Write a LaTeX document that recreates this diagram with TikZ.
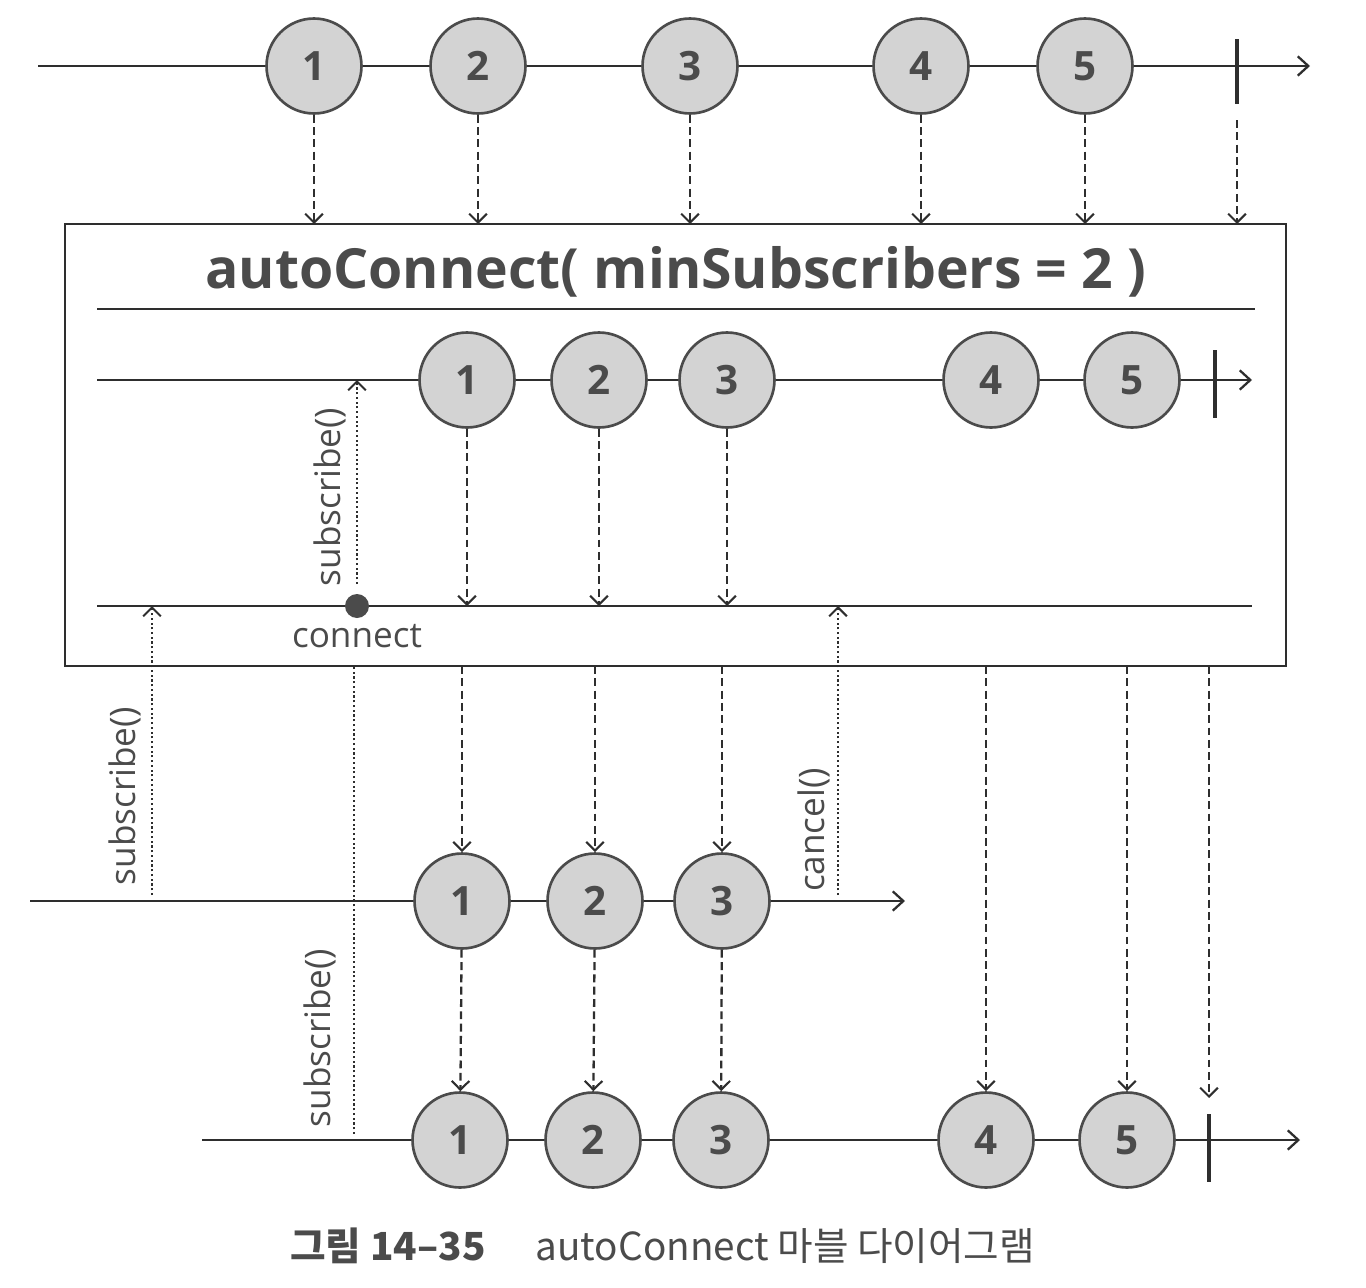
\documentclass[tikz,border=0pt]{standalone}
\usepackage{fontspec}
\setmainfont{Open Sans}
\newfontfamily\krfont{Noto Sans CJK KR}
\usepackage{xcolor}
\usetikzlibrary{arrows.meta,calc,positioning}
\definecolor{marblefill}{HTML}{D3D3D3}
\definecolor{inkgray}{HTML}{4B4B4B}
\definecolor{linegray}{HTML}{2E2E2E}
\tikzset{
		>={Straight Barb[length=6pt,width=11pt,line width=1.3pt]},
		timeline/.style={linegray,line width=1.3pt,->},
		plainline/.style={linegray,line width=1.3pt},
		endbar/.style={linegray,line width=2pt},
		marble/.style={circle,draw=inkgray,fill=marblefill,line width=1.5pt,
			minimum size=1.9cm,inner sep=0pt,text=inkgray,font=\bfseries\fontsize{23}{23}\selectfont},
		emit/.style={linegray,line width=1.3pt,dash pattern=on 4.5pt off 2.5pt,
			-{Straight Barb[length=5pt,width=10pt,line width=1.2pt]}},
		call/.style={linegray,line width=1.6pt,dash pattern=on 1.2pt off 1.5pt,
			-{Straight Barb[length=5pt,width=10pt,line width=1.2pt]}},
		callline/.style={linegray,line width=1.6pt,dash pattern=on 1.2pt off 1.5pt},
		lbl/.style={text=inkgray,font=\fontsize{20}{20}\selectfont,inner sep=0pt}
	}
\begin{document}
\begin{tikzpicture}[x=0.02cm,y=-0.02cm]
          \useasboundingbox (0,0) rectangle (1366,1288);

          % source
          \coordinate (tStart) at (38,66);
          \coordinate (tEnd) at (1310,66);
          \draw[timeline] (tStart) -- (tEnd);
          \node[marble] (t1) at (314,66) {1};
          \node[marble] (t2) at (478,66) {2};
          \node[marble] (t3) at (690,66) {3};
          \node[marble] (t4) at (921,66) {4};
          \node[marble] (t5) at (1085,66) {5};
          \coordinate (tDone) at (1237,66);
          \draw[endbar] ($(tDone)+(0,-27)$) -- ($(tDone)+(0,38)$);

          % operator box
          \coordinate (boxNW) at (65,224);
          \coordinate (boxSE) at (1286,666);
          \draw[plainline] (boxNW) rectangle (boxSE);
          \node[text=inkgray,font=\bfseries\fontsize{31.5}{31.5}\selectfont] (title) at (676,272)
               {autoConnect( minSubscribers = 2 )};
          \draw[plainline] (97,309) -- (1255,309);

          \draw[emit] (t1) -- (t1 |- boxNW);
          \draw[emit] (t2) -- (t2 |- boxNW);
          \draw[emit] (t3) -- (t3 |- boxNW);
          \draw[emit] (t4) -- (t4 |- boxNW);
          \draw[emit] (t5) -- (t5 |- boxNW);
          \draw[emit] ($(tDone)+(0,54)$) -- (tDone |- boxNW);

          % inner source
          \coordinate (aStart) at (97,380);
          \coordinate (aEnd) at (1252,380);
          \draw[timeline] (aStart) -- (aEnd);
          \node[marble] (a1) at (467,380) {1};
          \node[marble] (a2) at (599,380) {2};
          \node[marble] (a3) at (727,380) {3};
          \node[marble] (a4) at (991,380) {4};
          \node[marble] (a5) at (1132,380) {5};
          \coordinate (aDone) at (1215,380);
          \draw[endbar] ($(aDone)+(0,-30)$) -- ($(aDone)+(0,38)$);

          % inner subscriber line
          \coordinate (cStart) at (97,606);
          \coordinate (cEnd) at (1252,606);
          \draw[plainline] (cStart) -- (cEnd);
          \draw[emit] (a1) -- (a1 |- cStart);
          \draw[emit] (a2) -- (a2 |- cStart);
          \draw[emit] (a3) -- (a3 |- cStart);

          \node[circle,fill=inkgray,minimum size=0.48cm,inner sep=0pt] (conn) at (357,606) {};
          \node[lbl,below=0.12cm of conn] (connLbl) {connect};
          \draw[call] ($(conn)+(0,-22)$) -- (conn |- aStart);
          \node[lbl,rotate=90] (subA) at (330,497) {subscribe()};

          % first subscriber
          \coordinate (sStart) at (30,901);
          \coordinate (sEnd) at (905,901);
          \draw[timeline] (sStart) -- (sEnd);
          \node[marble] (s1) at (462,901) {1};
          \node[marble] (s2) at (595,901) {2};
          \node[marble] (s3) at (722,901) {3};
          \draw[emit] (s1 |- boxSE) -- (s1);
          \draw[emit] (s2 |- boxSE) -- (s2);
          \draw[emit] (s3 |- boxSE) -- (s3);

          \coordinate (subOne) at (152,895);
          \draw[call] (subOne) -- (subOne |- cStart);
          \node[lbl,rotate=90] (subB) at (125,796) {subscribe()};
          \coordinate (cancelPt) at (838,895);
          \draw[call] (cancelPt) -- (cancelPt |- cStart);
          \node[lbl,rotate=90] (cancelLbl) at (814,830) {cancel()};

          % second subscriber
          \coordinate (bStart) at (202,1140);
          \coordinate (bEnd) at (1300,1140);
          \draw[timeline] (bStart) -- (bEnd);
          \node[marble] (b1) at (460,1140) {1};
          \node[marble] (b2) at (593,1140) {2};
          \node[marble] (b3) at (721,1140) {3};
          \node[marble] (b4) at (986,1140) {4};
          \node[marble] (b5) at (1127,1140) {5};
          \coordinate (bDone) at (1209,1140);
          \draw[endbar] ($(bDone)+(0,-26)$) -- ($(bDone)+(0,42)$);
          \draw[emit] (s1) -- (b1);
          \draw[emit] (s2) -- (b2);
          \draw[emit] (s3) -- (b3);
          \draw[emit] (b4 |- boxSE) -- (b4);
          \draw[emit] (b5 |- boxSE) -- (b5);
          \draw[emit] (bDone |- boxSE) -- ($(bDone)+(0,-42)$);

          \coordinate (subTwo) at (354,1134);
          \draw[callline] (subTwo) -- (subTwo |- boxSE);
          \node[lbl,rotate=90] (subC) at (320,1038) {subscribe()};

          % caption
          \node[anchor=west,inner sep=0pt,text=inkgray,font=\krfont\fontsize{22}{22}\selectfont] (cap) at (290,1246)
               {{\bfseries 그림 14–35}\hspace{1cm}autoConnect 마블 다이어그램};

\end{tikzpicture}
\end{document}
